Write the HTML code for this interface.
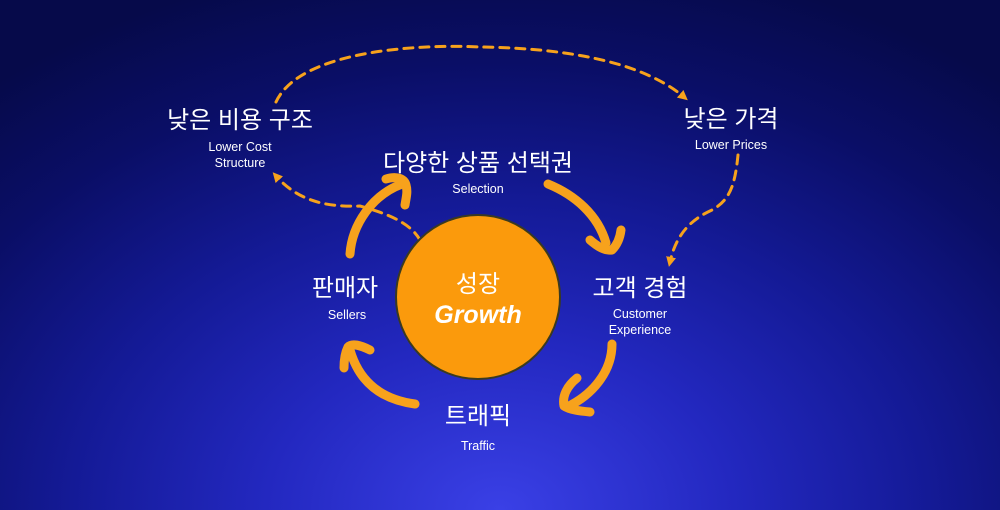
<!DOCTYPE html>
<html><head><meta charset="utf-8"><style>
html,body{margin:0;padding:0;width:1000px;height:510px;overflow:hidden;}
body{background:radial-gradient(ellipse 780px 560px at 500px 510px,#3a40e6 0%,#2328c0 30%,#141a96 55%,#0a0e66 80%,#060a4a 100%);}
svg{position:absolute;left:0;top:0;}
text{font-family:"Liberation Sans","Noto Sans CJK KR","NanumGothic",sans-serif;fill:#fff;text-anchor:middle;}
</style></head><body>
<svg width="1000" height="510" viewBox="0 0 1000 510">
<defs>
<marker id="ah" markerWidth="10" markerHeight="10" refX="5" refY="5" orient="auto" markerUnits="userSpaceOnUse">
<path d="M0,0 L10,5 L0,10 z" fill="#f7a21c"/></marker>
</defs>
<!-- dashed connectors -->
<g fill="none" stroke="#f7a21c" stroke-width="3" stroke-dasharray="9,7" stroke-linecap="round">
<path d="M276,102 C300,50 420,44 480,47 C560,48 640,60 684,97" marker-end="url(#ah)"/>
<path d="M738,155 C735,185 730,200 712,210 C690,220 676,235 670,262" marker-end="url(#ah)"/>
<path d="M420,240 C410,222 385,213 360,206 C330,207 300,203 276,176" marker-end="url(#ah)"/>
</g>
<!-- thick arrows -->
<g fill="none" stroke="#f7a21c" stroke-width="9" stroke-linecap="round" stroke-linejoin="round">
<path d="M350,254 C352,225 372,195 402,184"/>
<path d="M386,179 C396,176 404,178 406,185 C408,192 406,198 405,205"/>
<path d="M548,184 C575,195 598,215 606,243"/>
<path d="M590,240 C598,247 605,251 612,250 C617,245 620,238 621,230"/>
<path d="M612,344 C612,372 592,395 567,407"/>
<path d="M577,378 C567,386 562,396 564,406 C570,410 580,411 590,412"/>
<path d="M415,404 C385,400 360,385 350,350"/>
<path d="M370,350 C360,345 352,343 348,347 C345,353 344,360 344,368"/>
</g>
<circle cx="478" cy="297" r="82" fill="#fb9a0c" stroke="#3a3a20" stroke-width="2"/>
<text x="478" y="292" font-size="24">성장</text>
<text x="478" y="323" font-size="25" font-weight="bold" font-style="italic">Growth</text>
<text x="240" y="128" font-size="24">낮은 비용 구조</text>
<text x="240" y="151" font-size="12.5">Lower Cost</text>
<text x="240" y="167" font-size="12.5">Structure</text>
<text x="731" y="127" font-size="24">낮은 가격</text>
<text x="731" y="149" font-size="12.5">Lower Prices</text>
<text x="478" y="171" font-size="24">다양한 상품 선택권</text>
<text x="478" y="193" font-size="12.5">Selection</text>
<text x="345" y="296" font-size="24">판매자</text>
<text x="347" y="319" font-size="12.5">Sellers</text>
<text x="640" y="296" font-size="24">고객 경험</text>
<text x="640" y="318" font-size="12.5">Customer</text>
<text x="640" y="334" font-size="12.5">Experience</text>
<text x="478" y="424" font-size="24">트래픽</text>
<text x="478" y="450" font-size="12.5">Traffic</text>
</svg>
</body></html>
